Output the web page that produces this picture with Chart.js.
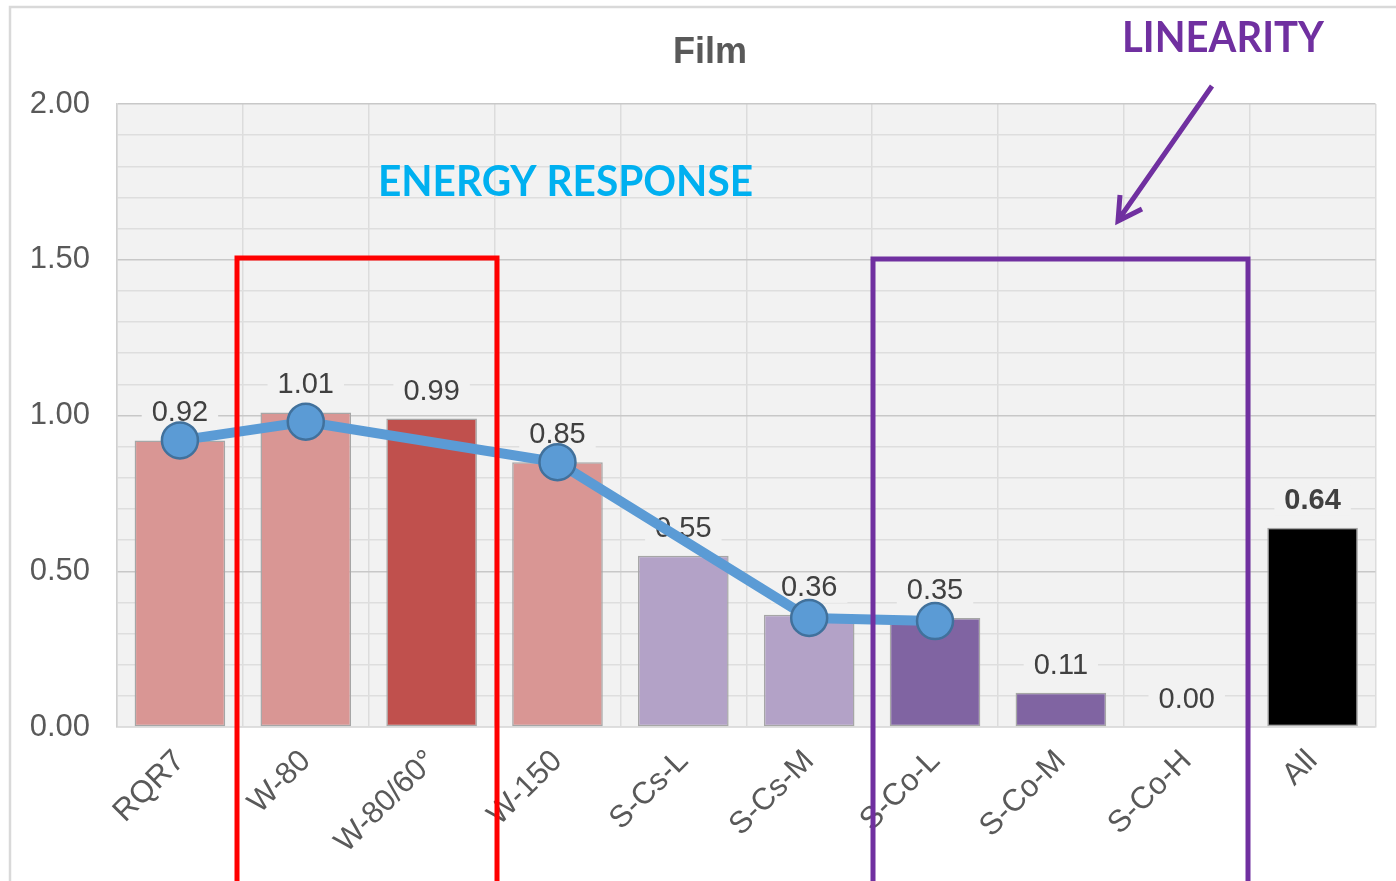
<!DOCTYPE html>
<html>
<head>
<meta charset="utf-8">
<script src="https://cdn.jsdelivr.net/npm/chart.js@4.4.1/dist/chart.umd.min.js"></script>
<style>
  html, body { margin: 0; padding: 0; background: #fff; }
  canvas { display: block; }
</style>
</head>
<body>
<canvas id="myChart" width="1396" height="881"></canvas>
<script>
// categories and values
var categories = ["RQR7", "W-80", "W-80/60°", "W-150", "S-Cs-L", "S-Cs-M", "S-Co-L", "S-Co-M", "S-Co-H", "All"];
var barValues = [0.92, 1.01, 0.99, 0.85, 0.55, 0.36, 0.35, 0.11, 0.00, 0.64];
var lineValues = [0.92, 0.98, null, 0.85, null, 0.35, 0.34, null, null, null];
var barColors = ["#d99694", "#d99694", "#c0504d", "#d99694", "#b3a2c7", "#b3a2c7", "#8064a2", "#8064a2", "#8064a2", "#000000"];
var yTickLabels = ["0.00", "0.50", "1.00", "1.50", "2.00"];

var FONT = "'Liberation Sans', Arial, sans-serif";

function isMajor(v) {
    return Math.abs(v * 2 - Math.round(v * 2)) < 1e-6;
}

// fill text squeezed into a given width
function fitText(ctx, text, x, y, width) {
    var w = ctx.measureText(text).width;
    ctx.save();
    ctx.translate(x, y);
    ctx.scale(width / w, 1);
    ctx.textAlign = "left";
    ctx.fillText(text, 0, 0);
    ctx.restore();
}

var plotBack = {
    id: "plotBack",
    beforeDraw: function (chart) {
        var ctx = chart.ctx, a = chart.chartArea;
        ctx.save();
        ctx.fillStyle = "#f2f2f2";
        ctx.fillRect(a.left, a.top, a.right - a.left, a.bottom - a.top);
        ctx.restore();
    }
};

// value labels above bars, drawn before the line so the line covers them
var barLabels = {
    id: "barLabels",
    afterDatasetDraw: function (chart, args) {
        if (args.index !== 1) return;
        var ctx = chart.ctx;
        ctx.save();
        args.meta.data.forEach(function (bar, i) {
            var txt = barValues[i].toFixed(2);
            var last = i === barValues.length - 1;
            ctx.font = (last ? "bold " : "") + "29px " + FONT;
            var w = ctx.measureText(txt).width;
            var cy = bar.y - 27;
            ctx.fillStyle = "#f2f2f2";
            ctx.fillRect(bar.x - w / 2 - 10, cy - 15, w + 20, 30);
            ctx.fillStyle = "#404040";
            ctx.textAlign = "center";
            ctx.textBaseline = "middle";
            ctx.fillText(txt, bar.x, cy);
        });
        ctx.restore();
    }
};

var annotations = {
    id: "annotations",
    afterDraw: function (chart) {
        var ctx = chart.ctx;
        ctx.save();
        // outer frame
        ctx.strokeStyle = "#d9d9d9";
        ctx.lineWidth = 2.5;
        ctx.strokeRect(10, 7, 1500, 1000);

        // title
        ctx.fillStyle = "#595959";
        ctx.font = "bold 36px " + FONT;
        ctx.textAlign = "center";
        ctx.textBaseline = "alphabetic";
        ctx.fillText("Film", 710, 63);

        // boxes
        ctx.lineWidth = 5;
        ctx.strokeStyle = "#ff0000";
        ctx.strokeRect(237, 258, 260, 700);
        ctx.strokeStyle = "#7030a0";
        ctx.strokeRect(873, 259, 375, 700);

        // arrow
        ctx.beginPath();
        ctx.moveTo(1212, 86);
        ctx.lineTo(1119, 219);
        ctx.moveTo(1120, 195);
        ctx.lineTo(1118, 221);
        ctx.lineTo(1142, 209);
        ctx.stroke();

        // texts
        ctx.font = "bold 42px Lato, 'Open Sans', sans-serif";
        ctx.fillStyle = "#7030a0";
        fitText(ctx, "LINEARITY", 1122, 52, 202);
        ctx.fillStyle = "#00b0f0";
        fitText(ctx, "ENERGY RESPONSE", 378, 196, 375);
        ctx.restore();
    }
};

var ctx = document.getElementById("myChart").getContext("2d");
var myChart = new Chart(ctx, {
    type: "bar",
    data: {
        labels: categories,
        datasets: [{
            type: "line",
            label: "Line",
            data: lineValues,
            spanGaps: true,
            borderColor: "#5b9bd5",
            borderWidth: 10,
            pointRadius: 18,
            pointBackgroundColor: "#5b9bd5",
            pointBorderColor: "#41719c",
            pointBorderWidth: 2.5,
            tension: 0,
            order: 0
        }, {
            type: "bar",
            label: "Film",
            data: barValues,
            backgroundColor: barColors,
            borderColor: "#a6a6a6",
            borderWidth: 1.5,
            borderSkipped: false,
            barPercentage: 0.72,
            categoryPercentage: 1,
            order: 1
        }]
    },
    options: {
        responsive: false,
        devicePixelRatio: 1,
        animation: false,
        layout: { padding: { left: 0, top: 104, right: 17, bottom: 0 } },
        plugins: {
            legend: { display: false },
            title: { display: false },
            tooltip: { enabled: false }
        },
        scales: {
            x: {
                grid: { color: "#dcdcdc", lineWidth: 1.5, drawTicks: false, offset: true },
                border: { color: "#dcdcdc", width: 1.5 },
                ticks: {
                    autoSkip: false,
                    maxRotation: 45,
                    minRotation: 45,
                    padding: 16,
                    color: "#595959",
                    font: { family: FONT, size: 31 }
                },
                afterFit: function (scale) { scale.height = 154; }
            },
            y: {
                min: 0,
                max: 2,
                grid: {
                    drawTicks: false,
                    color: function (c) { return isMajor(c.tick.value) ? "#c8c8c8" : "#dedede"; },
                    lineWidth: 1.5
                },
                border: { color: "#d0d0d0", width: 1.5 },
                ticks: {
                    stepSize: 0.1,
                    maxTicksLimit: 25,
                    autoSkip: false,
                    padding: 27,
                    color: "#595959",
                    font: { family: FONT, size: 31 },
                    callback: function (v) {
                        if (!isMajor(v)) return "";
                        return yTickLabels[Math.round(v * 2)];
                    }
                },
                afterFit: function (scale) { scale.width = 117; }
            }
        }
    },
    plugins: [plotBack, barLabels, annotations]
});
</script>
</body>
</html>
